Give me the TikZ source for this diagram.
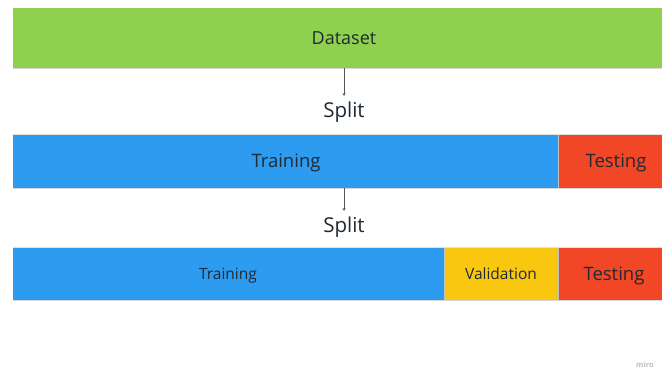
\documentclass[tikz,border=0pt]{standalone}
\usepackage{fontspec}
\setmainfont{Open Sans}
\usetikzlibrary{arrows.meta}
\definecolor{mgreen}{HTML}{8FD14F}
\definecolor{mblue}{HTML}{2D9BF0}
\definecolor{mred}{HTML}{F24726}
\definecolor{myellow}{HTML}{FAC710}
\definecolor{mtext}{HTML}{1F2A33}
\definecolor{mline}{HTML}{555555}
\tikzset{
  lbl/.style={text=mtext, inner sep=0pt, anchor=base},
  flow/.style={draw=mline, line width=0.9pt, -{Stealth[length=3pt,width=3pt]}},
}
\begin{document}
\begin{tikzpicture}[x=1pt,y=-1pt]
  \useasboundingbox (0,0) rectangle (662,382);
  \clip (0,0) rectangle (662,382);
  \fill[white] (0,0) rectangle (662,382);

  % full dataset
  \fill[mgreen] (13,8) rectangle (675,68);
  \draw[black!15, line width=0.6pt] (13,68.3) -- (675,68.3);
  \node[lbl, font=\fontsize{18}{21}\selectfont] (ds) at (344,44.5) {Dataset};
  \coordinate (dsb) at (344,68);

  % first split: training / testing
  \fill[mblue] (13,135) rectangle (558,188);
  \fill[mred] (558,135) rectangle (675,188);
  \draw[black!12, line width=0.6pt] (13,134.7) -- (675,134.7);
  \draw[black!15, line width=0.6pt] (13,188.3) -- (675,188.3);
  \draw[black!25, line width=0.5pt] (558,135) -- (558,188);
  \node[lbl, font=\fontsize{18.5}{22}\selectfont] (tr1) at (286,167.5) {Training};
  \node[lbl, font=\fontsize{18.5}{22}\selectfont] (te1) at (616,167.5) {Testing};
  \coordinate (trb) at (344,188);

  % second split: training / validation / testing
  \fill[mblue] (13,248) rectangle (444,300);
  \fill[myellow] (444,248) rectangle (558,300);
  \fill[mred] (558,248) rectangle (675,300);
  \draw[black!12, line width=0.6pt] (13,247.7) -- (675,247.7);
  \draw[black!15, line width=0.6pt] (13,300.3) -- (675,300.3);
  \draw[black!25, line width=0.5pt] (444,248) -- (444,300);
  \draw[black!25, line width=0.5pt] (558,248) -- (558,300);
  \node[lbl, font=\fontsize{15.5}{18}\selectfont] (tr2) at (228,279.5) {Training};
  \node[lbl, font=\fontsize{15.5}{18}\selectfont] (va2) at (501,279.5) {Validation};
  \node[lbl, font=\fontsize{18.5}{22}\selectfont] (te2) at (614,280.5) {Testing};

  % split labels and arrows
  \node[lbl, font=\fontsize{20.5}{24}\selectfont] (s1) at (344,118) {Split};
  \node[lbl, font=\fontsize{20.5}{24}\selectfont] (s2) at (344,233) {Split};
  \coordinate (a1) at (344,96);
  \coordinate (a2) at (344,211);
  \draw[flow] (dsb) -- (a1);
  \draw[flow] (trb) -- (a2);

  % watermark
  \node[text=black!25, font=\fontsize{7.5}{9}\selectfont\bfseries, inner sep=0pt] (wm) at (645,365) {miro};
\end{tikzpicture}
\end{document}
